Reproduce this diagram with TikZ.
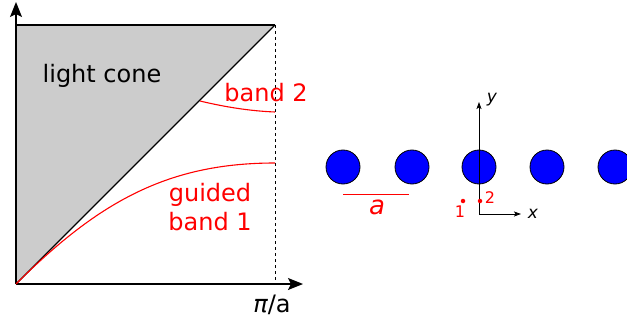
\documentclass[tikz,border=0pt]{standalone}
\usepackage{fontspec}
\setmainfont{DejaVu Sans}
\usetikzlibrary{arrows.meta}
\begin{document}
\begin{tikzpicture}[x=1pt,y=-1pt,
  axis/.style={line width=1.3pt,-{Stealth[length=15pt,width=12pt,inset=3pt]}},
  smallaxis/.style={line width=0.8pt,-{Stealth[length=7pt,width=5pt,inset=1.5pt]}},
  band/.style={red,line width=1.1pt},
  rod/.style={circle,draw=black,fill=blue,line width=0.8pt,minimum size=34pt,inner sep=0pt},
  lbl/.style={red,font=\fontsize{24}{29}\selectfont,align=center,inner sep=0pt},
  dot/.style={circle,fill=red,minimum size=4.5pt,inner sep=0pt}]
\useasboundingbox (0,0) rectangle (627,321);
% left panel
\coordinate (O) at (16,284);
\coordinate (TL) at (16,25);
\coordinate (TR) at (275,25);
\coordinate (BR) at (275,284);
\coordinate (YT) at (16,2);
\coordinate (XT) at (303,284);
\fill[black!20] (O) -- (TL) -- (TR) -- cycle;
\draw[line width=1.1pt] (TL) -- (TR);
\draw[line width=1.1pt] (O) -- (TR);
\draw[dashed,line width=1pt] (TR) -- (BR);
\draw[axis] (O) -- (YT);
\draw[axis] (O) -- (XT);
\draw[band] (O) .. controls (100,200) and (170,163) .. (275,163);
\coordinate (B2a) at (200,101);
\draw[band] (B2a) .. controls (225,107) and (250,111) .. (275,112);
\node[font=\fontsize{24}{29}\selectfont,inner sep=0pt] (lc) at (102,76) {light cone};
\node[lbl] (b2) at (266,93) {band 2};
\node[lbl] (b1) at (210,207) {guided\\band 1};
\node[font=\fontsize{24}{29}\selectfont,inner sep=0pt] (pa) at (272,305) {{\itshape π}/a};
% right panel
\foreach \i/\x in {1/343,2/412,3/479,4/547,5/615}{
  \node[rod] (r\i) at (\x,167) {};
}
\coordinate (OR) at (479,214);
\coordinate (YR) at (479,102);
\coordinate (XR) at (521,214);
\draw[smallaxis] (OR) -- (YR);
\draw[smallaxis] (OR) -- (XR);
\node[font=\fontsize{17}{19}\selectfont\itshape,inner sep=0pt] (ylab) at (492,100) {y};
\node[font=\fontsize{17}{19}\selectfont\itshape,inner sep=0pt] (xlab) at (533,214) {x};
\coordinate (aL) at (343,194);
\coordinate (aR) at (409,194);
\draw[red,line width=1pt] (aL) -- (aR);
\node[red,font=\fontsize{26}{30}\selectfont\itshape,inner sep=0pt] (alab) at (377,207) {a};
\node[dot] (d1) at (463,201) {};
\node[dot] (d2) at (480,201) {};
\node[red,font=\fontsize{16}{18}\selectfont,inner sep=0pt] (l1) at (460,212) {1};
\node[red,font=\fontsize{16}{18}\selectfont,inner sep=0pt] (l2) at (490,198) {2};
\end{tikzpicture}
\end{document}
